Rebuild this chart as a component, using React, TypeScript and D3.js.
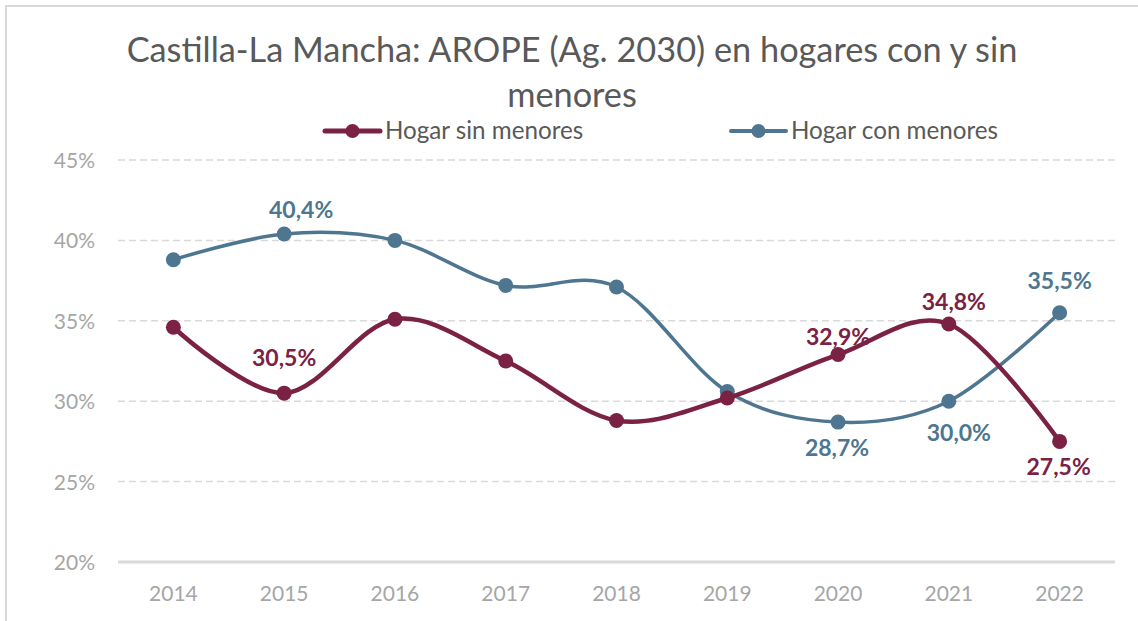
import React from 'react';
import * as d3 from 'd3';

const years = ['2014', '2015', '2016', '2017', '2018', '2019', '2020', '2021', '2022'];
const sinMenores = [34.6, 30.5, 35.1, 32.5, 28.8, 30.2, 32.9, 34.8, 27.5];
const conMenores = [38.8, 40.4, 40.0, 37.2, 37.1, 30.6, 28.7, 30.0, 35.5];
const yTicks = [20, 25, 30, 35, 40, 45];
const titleLines = ['Castilla-La Mancha: AROPE (Ag. 2030) en hogares con y sin', 'menores'];
const seriesNames = ['Hogar sin menores', 'Hogar con menores'];
const colors = ['#7B2143', '#4E7690'];

// which points carry a data label, and where (offset of label centre from point)
const labelLayout = [
  { s: 0, i: 1, dx: 0, dy: -35 },
  { s: 0, i: 6, dx: 0, dy: -18 },
  { s: 0, i: 7, dx: 5, dy: -22 },
  { s: 0, i: 8, dx: -1, dy: 26 },
  { s: 1, i: 1, dx: 17, dy: -24 },
  { s: 1, i: 6, dx: -1, dy: 26 },
  { s: 1, i: 7, dx: 10, dy: 32 },
  { s: 1, i: 8, dx: 0, dy: -32 },
];

const W = 1138;
const H = 621;
const FONT = 'Lato, "Open Sans", sans-serif';

export default function App() {
  const x = d3.scalePoint<string>().domain(years).range([118, 1115]).padding(0.5);
  const y = d3.scaleLinear().domain([20, 45]).range([562, 160]);
  const series = [sinMenores, conMenores];
  const line = d3
    .line<number>()
    .x((_, i) => x(years[i]) as number)
    .y((d) => y(d))
    .curve(d3.curveCardinal.tension(0));
  const fmt = (v: number) => v.toFixed(1).replace('.', ',') + '%';

  const legend = [
    { x0: 325, x1: 380, tx: 385 },
    { x0: 731, x1: 786, tx: 791 },
  ];

  return (
    <svg
      width={W}
      height={H}
      style={{ position: 'absolute', left: 0, top: 0, background: '#fff' }}
      fontFamily={FONT}
    >
      <rect x={6} y={6} width={W + 10} height={H + 10} fill="#fff" stroke="#D9D9D9" strokeWidth={2} />
      {titleLines.map((t, k) => (
        <text
          key={k}
          x={572}
          y={k === 0 ? 62 : 107}
          textAnchor="middle"
          fontSize={34.3}
          fill="#595959"
        >
          {t}
        </text>
      ))}
      {legend.map((l, k) => (
        <g key={k}>
          <line x1={l.x0} x2={l.x1} y1={131} y2={131} stroke={colors[k]} strokeWidth={k === 0 ? 5 : 4} strokeLinecap="round" />
          <circle cx={(l.x0 + l.x1) / 2} cy={131} r={7} fill={colors[k]} />
          <text x={l.tx} y={139} fontSize={24.2} fill="#595959">
            {seriesNames[k]}
          </text>
        </g>
      ))}
      {yTicks.map((t) => (
        <g key={t}>
          <line
            x1={118}
            x2={1115}
            y1={y(t)}
            y2={y(t)}
            stroke="#D9D9D9"
            strokeWidth={t === 20 ? 3 : 1.5}
            strokeDasharray={t === 20 ? undefined : '7,4'}
          />
          <text x={95} y={y(t) + 8} textAnchor="end" fontSize={21} fill="#A6A6A6">
            {t}%
          </text>
        </g>
      ))}
      {years.map((yr) => (
        <text key={yr} x={x(yr)} y={601} textAnchor="middle" fontSize={21} fill="#A6A6A6">
          {yr}
        </text>
      ))}
      {[1, 0].map((s) => (
        <g key={s}>
          <path d={line(series[s]) || ''} fill="none" stroke={colors[s]} strokeWidth={s === 0 ? 4.5 : 3.5} strokeLinejoin="round" />
          {series[s].map((v, i) => (
            <circle key={i} cx={x(years[i])} cy={y(v)} r={7.5} fill={colors[s]} />
          ))}
        </g>
      ))}
      {labelLayout.map((l, k) => (
        <text
          key={k}
          x={(x(years[l.i]) as number) + l.dx}
          y={y(series[l.s][l.i]) + l.dy + 8}
          textAnchor="middle"
          fontSize={23}
          fontWeight="bold"
          fill={colors[l.s]}
        >
          {fmt(series[l.s][l.i])}
        </text>
      ))}
    </svg>
  );
}
